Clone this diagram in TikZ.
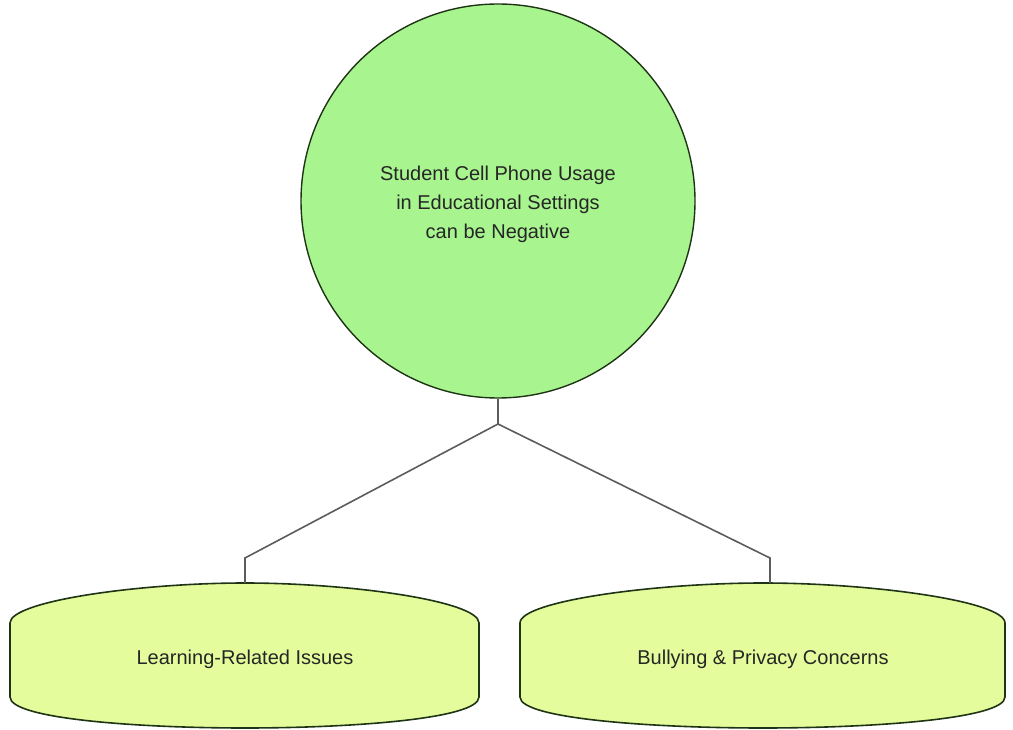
\documentclass[tikz,border=0pt]{standalone}
\usepackage{fontspec}
\setmainfont{Liberation Sans}
\definecolor{rootgreen}{HTML}{A8F590}
\definecolor{leafgreen}{HTML}{E4FC9C}
\definecolor{linkgray}{HTML}{5C5C5C}
\definecolor{rimdark}{HTML}{1E3414}

\tikzset{
  rootnode/.style={circle, draw=rimdark, fill=rootgreen, line width=1.4pt,
    minimum size=394pt, inner sep=0pt, align=center},
  leafbox/.style={draw=rimdark, fill=leafgreen, line width=1.6pt},
  label text/.style={font=\fontsize{20}{29}\selectfont, text=black!85},
  link/.style={draw=linkgray, line width=1.6pt}
}

\begin{document}
\begin{tikzpicture}[x=1pt,y=-1pt]
  \useasboundingbox (0,0) rectangle (1013,730);

  % central claim
  \node[rootnode] (root) at (498,201) {};
  \node[label text, align=center] (claim) at (498,204)
    {Student Cell Phone Usage\\in Educational Settings\\can be Negative};

  % the two flattened ovals
  \draw[leafbox] (10,623) -- (10,697)
    .. controls (10,719) and (140,728) .. (245,728)
    .. controls (350,728) and (479,719) .. (479,697) -- (479,623)
    .. controls (479,601) and (350,583) .. (245,583) coordinate (ltop)
    .. controls (140,583) and (10,601) .. (10,623) -- cycle;
  \draw[leafbox] (520,623) -- (520,697)
    .. controls (520,719) and (655,728) .. (763,728)
    .. controls (871,728) and (1005,719) .. (1005,697) -- (1005,623)
    .. controls (1005,601) and (871,583) .. (763,583) coordinate (rtop)
    .. controls (655,583) and (520,601) .. (520,623) -- cycle;
  \node[label text] (learn) at (245,659) {Learning-Related Issues};
  \node[label text] (bully) at (763,659) {Bullying \& Privacy Concerns};

  % connectors
  \coordinate (fork) at (498,424);
  \coordinate (lbend) at (245,558);
  \coordinate (rbend) at (770,558);
  \draw[link] (root.south) -- (fork);
  \draw[link] (fork) -- (lbend) -- (lbend |- ltop);
  \draw[link] (fork) -- (rbend) -- (rbend |- rtop);
\end{tikzpicture}
\end{document}
